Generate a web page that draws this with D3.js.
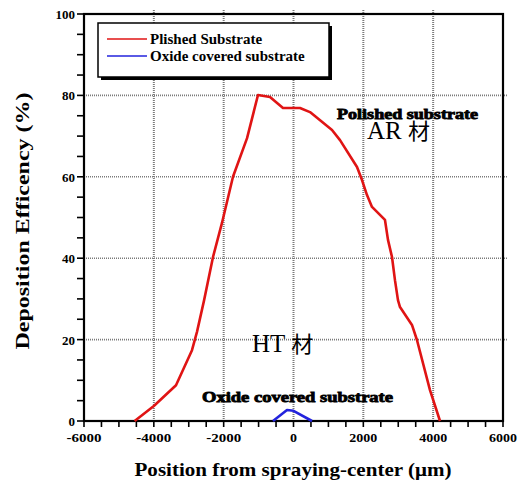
<!DOCTYPE html>
<html>
<head>
<meta charset="utf-8">
<script src="https://cdn.jsdelivr.net/npm/d3@7"></script>
<style>
  body { margin: 0; background: #fff; }
</style>
</head>
<body>
<script>
// data
var polishedX = [-4550,-4000,-3365,-2907,-2764,-2560,-2305,-2050,-1733,-1330,-1017,-673,-301,186,472,1103,1332,1819,1962,2105,2248,2620,2706,2821,2906,2992,3050,3393,3536,3909,4196];
var polishedY = [0,3.7,8.8,17.4,21.9,29.7,40.3,48.6,60,69.5,80.1,79.6,76.9,76.9,75.9,71.5,69,62.4,59.2,55.5,52.6,49.4,44.5,40.3,34.6,29.7,28,23.6,19.9,7.6,0];
var oxideX = [-587,-186,0,530];
var oxideY = [0,2.7,2.5,0];

var xTicks = [-6000,-4000,-2000,0,2000,4000,6000];
var yTicks = [0,20,40,60,80,100];
var legendNames = ["Plished Substrate","Oxide covered substrate"];
var colors = ["#e01414","#2323dd"];

var serif = "'Liberation Serif', 'Times New Roman', Times, 'DejaVu Serif', serif";
var cjk = "'Noto Sans CJK JP', 'Noto Sans CJK SC', sans-serif";

var width = 522, height = 484;
var margin = {top: 14, right: 19, bottom: 63, left: 84};
var innerW = width - margin.left - margin.right;
var innerH = height - margin.top - margin.bottom;

var svg = d3.select("body").append("svg")
  .attr("width", width)
  .attr("height", height)
  .attr("font-family", serif);

var g = svg.append("g")
  .attr("transform", "translate(" + margin.left + "," + margin.top + ")");

var x = d3.scaleLinear().domain([-6000, 6000]).range([0, innerW]);
var y = d3.scaleLinear().domain([0, 100]).range([innerH, 0]);

// grid
g.append("g").selectAll("line")
  .data(xTicks.slice(1, -1))
  .enter().append("line")
    .attr("x1", x).attr("x2", x)
    .attr("y1", -4).attr("y2", innerH)
    .attr("stroke", "#7a7a7a")
    .attr("stroke-width", 2)
    .attr("stroke-dasharray", "1,1");

g.append("g").selectAll("line")
  .data(yTicks.slice(1, -1))
  .enter().append("line")
    .attr("x1", 0).attr("x2", innerW + 4)
    .attr("y1", y).attr("y2", y)
    .attr("stroke", "#7a7a7a")
    .attr("stroke-width", 1.6)
    .attr("stroke-dasharray", "1,1");

// minor ticks
g.append("g").selectAll("line")
  .data(d3.range(-6000, 6001, 500))
  .enter().append("line")
    .attr("x1", x).attr("x2", x)
    .attr("y1", innerH).attr("y2", innerH + 6)
    .attr("stroke", "#000").attr("stroke-width", 1.6);

g.append("g").selectAll("line")
  .data(d3.range(0, 101, 5))
  .enter().append("line")
    .attr("x1", -7).attr("x2", 0)
    .attr("y1", y).attr("y2", y)
    .attr("stroke", "#000").attr("stroke-width", 1.6);

// tick labels
g.append("g").selectAll("text")
  .data(xTicks)
  .enter().append("text")
    .attr("x", x)
    .attr("y", innerH + 21)
    .attr("text-anchor", "middle")
    .attr("font-size", 13)
    .attr("font-weight", "bold")
    .attr("textLength", function(d) { return String(d).length * 7; })
    .attr("lengthAdjust", "spacingAndGlyphs")
    .text(function(d) { return d; });

g.append("g").selectAll("text")
  .data(yTicks)
  .enter().append("text")
    .attr("x", -9)
    .attr("y", function(d) { return y(d) + 5; })
    .attr("text-anchor", "end")
    .attr("font-size", 13)
    .attr("font-weight", "bold")
    .text(function(d) { return d; });

// frame
g.append("rect")
  .attr("width", innerW).attr("height", innerH)
  .attr("fill", "none")
  .attr("stroke", "#000")
  .attr("stroke-width", 2.2);

// lines
var line = d3.line()
  .x(function(d) { return x(d[0]); })
  .y(function(d) { return y(d[1]); });

g.append("path")
  .datum(d3.zip(polishedX, polishedY))
  .attr("d", line)
  .attr("fill", "none")
  .attr("stroke", colors[0])
  .attr("stroke-width", 2.6)
  .attr("stroke-linejoin", "round");

g.append("path")
  .datum(d3.zip(oxideX, oxideY))
  .attr("d", line)
  .attr("fill", "none")
  .attr("stroke", colors[1])
  .attr("stroke-width", 2.6)
  .attr("stroke-linejoin", "round");

// legend
var leg = svg.append("g").attr("transform", "translate(98,23)");
leg.append("rect")
  .attr("x", 3).attr("y", 3)
  .attr("width", 231).attr("height", 54)
  .attr("fill", "#000");
leg.append("rect")
  .attr("width", 231).attr("height", 54)
  .attr("fill", "#fff")
  .attr("stroke", "#000").attr("stroke-width", 1.5);

legendNames.forEach(function(name, i) {
  leg.append("line")
    .attr("x1", 9).attr("x2", 49)
    .attr("y1", 16 + i * 17).attr("y2", 16 + i * 17)
    .attr("stroke", colors[i]).attr("stroke-width", 1.5);
  leg.append("text")
    .attr("x", 52).attr("y", 21 + i * 17)
    .attr("font-size", 15)
    .attr("font-weight", "bold")
    .text(name);
});

// annotations
svg.append("text")
  .attr("x", 337).attr("y", 119)
  .attr("font-size", 14).attr("font-weight", "bold")
  .attr("stroke", "#000").attr("stroke-width", 0.8)
  .attr("textLength", 141).attr("lengthAdjust", "spacingAndGlyphs")
  .text("Polished substrate");

svg.append("text")
  .attr("x", 202).attr("y", 402)
  .attr("font-size", 14).attr("font-weight", "bold")
  .attr("stroke", "#000").attr("stroke-width", 0.8)
  .attr("textLength", 191).attr("lengthAdjust", "spacingAndGlyphs")
  .text("Oxide covered substrate");

svg.append("text")
  .attr("x", 367).attr("y", 139)
  .attr("font-size", 25)
  .text("AR ")
  .append("tspan")
    .attr("font-family", cjk)
    .attr("font-size", 22)
    .text("材");

svg.append("text")
  .attr("x", 252).attr("y", 352)
  .attr("font-size", 25)
  .text("HT ")
  .append("tspan")
    .attr("font-family", cjk)
    .attr("font-size", 22)
    .text("材");

// axis titles
svg.append("text")
  .attr("x", 293).attr("y", 476)
  .attr("text-anchor", "middle")
  .attr("font-size", 19).attr("font-weight", "bold")
  .attr("textLength", 317).attr("lengthAdjust", "spacingAndGlyphs")
  .text("Position from spraying-center (\u03bcm)");

svg.append("text")
  .attr("transform", "translate(29,221) rotate(-90)")
  .attr("text-anchor", "middle")
  .attr("font-size", 19).attr("font-weight", "bold")
  .attr("textLength", 257).attr("lengthAdjust", "spacingAndGlyphs")
  .text("Deposition Efficency (%)");
</script>
</body>
</html>
